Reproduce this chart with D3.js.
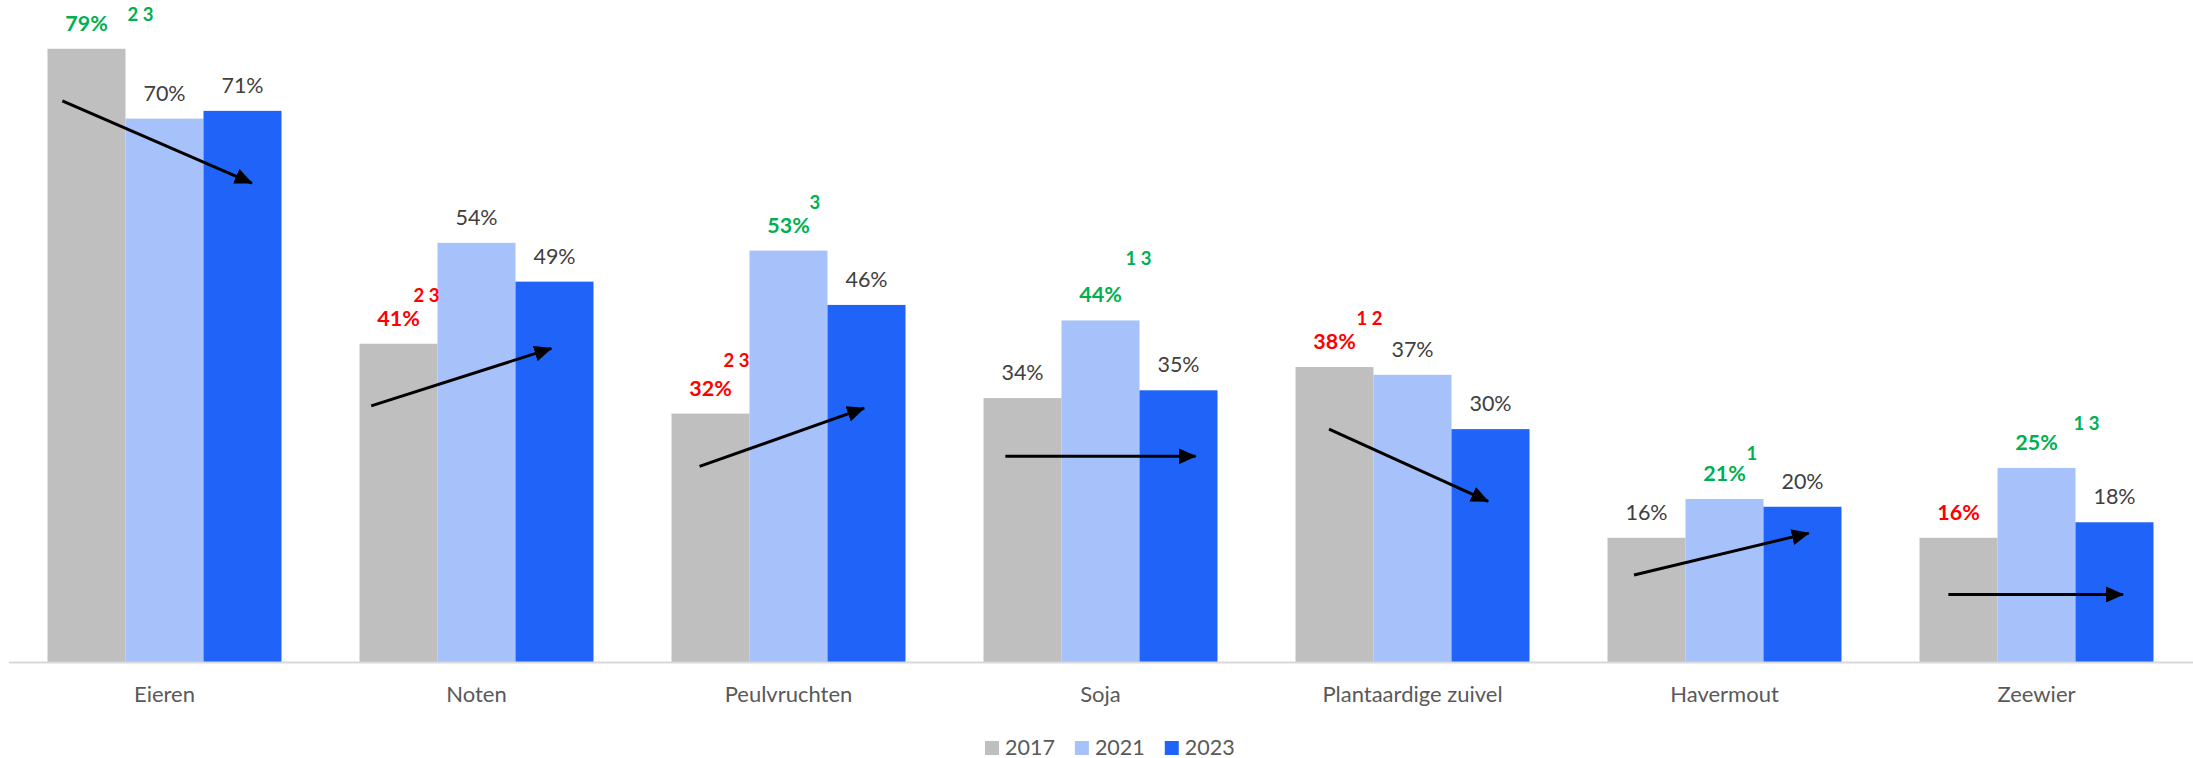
<!DOCTYPE html>
<html>
<head>
<meta charset="utf-8">
<script src="https://cdn.jsdelivr.net/npm/d3@7"></script>
<style>
  html, body { margin: 0; padding: 0; background: #ffffff; }
  svg { display: block; font-family: Lato, "Open Sans", sans-serif; }
</style>
</head>
<body>
<svg id="chart" width="2193" height="758"></svg>
<script>
// Categories and survey years
const categories = ["Eieren", "Noten", "Peulvruchten", "Soja", "Plantaardige zuivel", "Havermout", "Zeewier"];
const years = ["2017", "2021", "2023"];

// Share per category (%) per year
const values2017 = [79, 41, 32, 34, 38, 16, 16];
const values2021 = [70, 54, 53, 44, 37, 21, 25];
const values2023 = [71, 49, 46, 35, 30, 20, 18];

// Significance: "hi" = significantly higher, "lo" = significantly lower, "" = none
const sig2017 = ["hi", "lo", "lo", "", "lo", "", "lo"];
const sig2021 = ["", "", "hi", "hi", "", "hi", "hi"];
const sig2023 = ["", "", "", "", "", "", ""];

// Footnote references next to significant values
const notes2017 = ["2 3", "2 3", "2 3", "", "1 2", "", ""];
const notes2021 = ["", "", "3", "1 3", "", "1", "1 3"];
const notes2023 = ["", "", "", "", "", "", ""];

// Trend arrows: start level and end level (%)
const arrowFrom = [72.3, 33.0, 25.2, 26.5, 30.0, 11.2, 8.7];
const arrowTo   = [61.7, 40.4, 32.7, 26.5, 20.7, 16.6, 8.7];

// ---- layout ----
const W = 2193, H = 758;
const baseY = 662;
const colors = { "2017": "#BFBFBF", "2021": "#A7C1FA", "2023": "#2063F8" };
const sigColor = { hi: "#00B050", lo: "#FF0000" };
// horizontal anchor of each arrow inside the first and last bar (fraction of bar width)
const arrowStartFrac = [0.19, 0.15, 0.36, 0.28, 0.43, 0.34, 0.37];
const arrowEndFrac   = [0.62, 0.46, 0.47, 0.72, 0.47, 0.58, 0.61];
// placement of footnote text relative to its value label (left edge vs label centre, baseline shift)
const noteOffset = {
  "2017|Eieren": [41, -10],
  "2017|Noten": [15, -24],
  "2017|Peulvruchten": [13, -29],
  "2021|Peulvruchten": [21, -24],
  "2021|Soja": [25, -37],
  "2017|Plantaardige zuivel": [22, -24],
  "2021|Havermout": [22, -21],
  "2021|Zeewier": [37, -20]
};

const series = {
  "2017": { v: values2017, s: sig2017, n: notes2017 },
  "2021": { v: values2021, s: sig2021, n: notes2021 },
  "2023": { v: values2023, s: sig2023, n: notes2023 }
};

const rows = [];
categories.forEach((c, i) => {
  years.forEach(yr => {
    rows.push({ cat: c, i, year: yr, value: series[yr].v[i], sig: series[yr].s[i], note: series[yr].n[i] });
  });
});

const svg = d3.select("#chart");

const x0 = d3.scaleBand().domain(categories).range([8.5, 2192.5]).paddingInner(0.25).paddingOuter(0.125);
const x1 = d3.scaleBand().domain(years).range([0, x0.bandwidth()]);
const y = d3.scaleLinear().domain([0, 80]).range([baseY, 41]);

// bars
svg.append("g").selectAll("rect").data(rows).join("rect")
  .attr("x", d => x0(d.cat) + x1(d.year))
  .attr("y", d => y(d.value))
  .attr("width", x1.bandwidth())
  .attr("height", d => y(0) - y(d.value))
  .attr("fill", d => colors[d.year]);

// category axis
const axis = svg.append("g")
  .attr("transform", `translate(0,${baseY})`)
  .call(d3.axisBottom(x0).tickSize(0).tickSizeOuter(0));
axis.select(".domain").attr("stroke", "#D9D9D9").attr("stroke-width", 2);
axis.selectAll(".tick text")
  .attr("y", 40).attr("dy", 0)
  .attr("fill", "#595959")
  .style("font-family", "Lato, 'Open Sans', sans-serif")
  .style("font-size", "22px");

// value labels
const labels = svg.append("g").selectAll("g").data(rows).join("g")
  .attr("transform", d => `translate(${x0(d.cat) + x1(d.year) + x1.bandwidth() / 2},${y(d.value) - 18})`);

labels.append("text")
  .attr("text-anchor", "middle")
  .attr("fill", d => d.sig ? sigColor[d.sig] : "#404040")
  .style("font-size", "21.5px")
  .style("font-weight", d => d.sig ? 700 : 400)
  .text(d => d.value + "%");

labels.filter(d => d.note).append("text")
  .attr("x", d => (noteOffset[d.year + "|" + d.cat] || [22, -24])[0])
  .attr("y", d => (noteOffset[d.year + "|" + d.cat] || [22, -24])[1])
  .attr("fill", d => sigColor[d.sig])
  .style("font-size", "18.5px")
  .style("font-weight", 700)
  .text(d => d.note);

// trend arrows
svg.append("defs").append("marker")
  .attr("id", "arrowHead")
  .attr("markerUnits", "userSpaceOnUse")
  .attr("viewBox", "0 0 18 16")
  .attr("refX", 17).attr("refY", 8)
  .attr("markerWidth", 18).attr("markerHeight", 16)
  .attr("orient", "auto")
  .append("path")
  .attr("d", "M0,0 L18,8 L0,16 Z")
  .attr("fill", "#000");

const bw = x1.bandwidth();
svg.append("g").selectAll("line").data(categories).join("line")
  .attr("x1", (c, i) => x0(c) + x1("2017") + arrowStartFrac[i] * bw)
  .attr("y1", (c, i) => y(arrowFrom[i]))
  .attr("x2", (c, i) => x0(c) + x1("2023") + arrowEndFrac[i] * bw)
  .attr("y2", (c, i) => y(arrowTo[i]))
  .attr("stroke", "#000")
  .attr("stroke-width", 3)
  .attr("marker-end", "url(#arrowHead)");

// legend
const legend = svg.append("g").attr("transform", "translate(985,741)");
let lx = 0;
years.forEach(yr => {
  const g = legend.append("g").attr("transform", `translate(${lx},0)`);
  g.append("rect").attr("width", 14).attr("height", 14).attr("fill", colors[yr]);
  const t = g.append("text").attr("x", 20).attr("y", 13.5)
    .attr("fill", "#595959").style("font-size", "21.5px").text(yr);
  lx += 20 + t.node().getComputedTextLength() + 20;
});
</script>
</body>
</html>
